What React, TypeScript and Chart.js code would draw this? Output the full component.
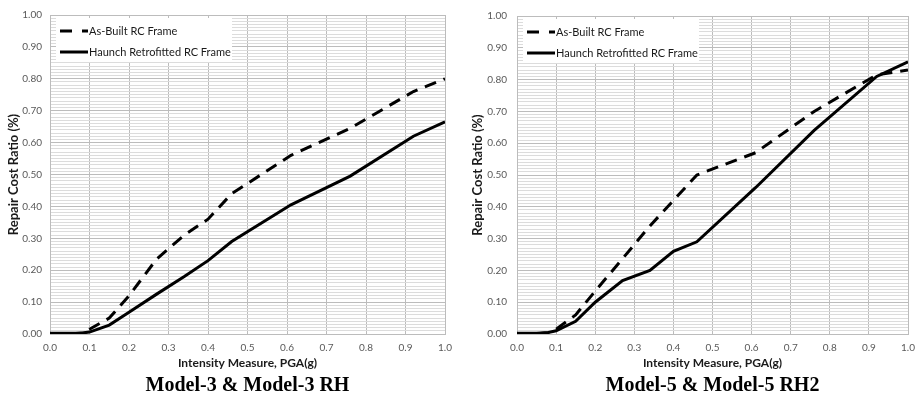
import React, { useEffect, useRef } from 'react';
import { Chart, registerables } from 'chart.js';

Chart.register(...registerables);

// ---- data ----
const PGA = [0, 0.05, 0.08, 0.1, 0.15, 0.2, 0.27, 0.34, 0.4, 0.46, 0.61, 0.76, 0.92, 1.0];
const M3_AS_BUILT = [0, 0, 0.003, 0.015, 0.05, 0.12, 0.235, 0.31, 0.36, 0.44, 0.56, 0.645, 0.76, 0.8];
const M3_HAUNCH = [0.002, 0.002, 0.003, 0.006, 0.028, 0.068, 0.125, 0.18, 0.23, 0.29, 0.405, 0.495, 0.62, 0.665];
const M5_AS_BUILT = [0, 0.001, 0.004, 0.015, 0.06, 0.135, 0.237, 0.34, 0.42, 0.5, 0.57, 0.7, 0.815, 0.83];
const M5_HAUNCH = [0.002, 0.002, 0.005, 0.01, 0.04, 0.1, 0.168, 0.2, 0.26, 0.29, 0.46, 0.64, 0.81, 0.856];
const SERIES_LABELS = ['As-Built RC Frame', 'Haunch Retrofitted RC Frame'];
const CHART_TITLES = ['Model-3 & Model-3 RH', 'Model-5 & Model-5 RH2'];
const X_TITLE = 'Intensity Measure, PGA(g)';
const Y_TITLE = 'Repair Cost Ratio (%)';

const toPoints = (xs: number[], ys: number[]) => xs.map((x, i) => ({ x, y: ys[i] }));

const isMajor = (v: number) => Math.round(v * 100) % 10 === 0;

const insideLegend = {
  id: 'insideLegend',
  afterDatasetsDraw(chart: any) {
    const { ctx, chartArea } = chart;
    const x0 = chartArea.left + 6;
    const y0 = chartArea.top + 3;
    ctx.save();
    ctx.fillStyle = '#ffffff';
    ctx.fillRect(x0, y0, 176, 44);
    chart.data.datasets.forEach((ds: any, i: number) => {
      const y = y0 + 13 + i * 21;
      ctx.beginPath();
      ctx.setLineDash(ds.borderDash && ds.borderDash.length ? [12, 10] : []);
      ctx.lineWidth = ds.borderWidth;
      ctx.strokeStyle = ds.borderColor;
      ctx.moveTo(x0 + 4, y);
      ctx.lineTo(x0 + 32, y);
      ctx.stroke();
      ctx.setLineDash([]);
      ctx.fillStyle = '#1a1a1a';
      ctx.font = '11px Lato';
      ctx.textBaseline = 'middle';
      ctx.textAlign = 'left';
      ctx.fillText(ds.label, x0 + 33, y);
    });
    ctx.restore();
  },
};

type PanelProps = {
  title: string;
  asBuilt: number[];
  haunch: number[];
  width: number;
  padLeft: number;
  padRight: number;
  yAxisWidth: number;
  yTickPad: number;
};

function Panel(p: PanelProps) {
  const ref = useRef<HTMLCanvasElement>(null);
  useEffect(() => {
    if (!ref.current) return;
    const chart = new Chart(ref.current, {
      type: 'line',
      data: {
        datasets: [
          {
            label: SERIES_LABELS[0],
            data: toPoints(PGA, p.asBuilt),
            borderColor: '#000000',
            borderWidth: 3,
            borderDash: [12, 8],
            pointRadius: 0,
            fill: false,
            tension: 0,
          },
          {
            label: SERIES_LABELS[1],
            data: toPoints(PGA, p.haunch),
            borderColor: '#000000',
            borderWidth: 3,
            pointRadius: 0,
            fill: false,
            tension: 0,
          },
        ],
      },
      options: {
        responsive: false,
        animation: false,
        layout: { padding: { top: 15, left: p.padLeft, right: p.padRight, bottom: 0 } },
        plugins: {
          legend: { display: false },
          tooltip: { enabled: false },
          title: {
            display: true,
            position: 'bottom',
            fullSize: false,
            text: p.title,
            color: '#000000',
            font: { family: "'Liberation Serif', 'Times New Roman', serif", size: 20, weight: 'bold', lineHeight: 1 },
            padding: { top: 6, bottom: 0 },
          },
        },
        scales: {
          x: {
            type: 'linear',
            min: 0,
            max: 1,
            afterFit: (s: any) => {
              s.height = 36;
              s.paddingLeft = 0;
              s.paddingRight = 0;
            },
            ticks: {
              stepSize: 0.1,
              color: '#595959',
              font: { family: 'Lato', size: 10 },
              padding: 8,
              maxRotation: 0,
              autoSkip: false,
              callback: (v: any) => Number(v).toFixed(1),
            },
            grid: { color: '#bcbcbc', drawTicks: false, lineWidth: 1 },
            border: { display: true, color: '#bcbcbc' },
            title: {
              display: true,
              text: X_TITLE,
              color: '#1a1a1a',
              font: { family: 'Lato', size: 12, weight: 'bold' },
              padding: { top: 0, bottom: 0 },
            },
          },
          y: {
            type: 'linear',
            min: 0,
            max: 1,
            afterFit: (s: any) => { s.width = p.yAxisWidth; },
            ticks: {
              stepSize: 0.01,
              autoSkip: false,
              color: '#595959',
              font: { family: 'Lato', size: 10 },
              padding: p.yTickPad,
              callback: (v: any) => (isMajor(Number(v)) ? Number(v).toFixed(2) : ''),
            },
            grid: {
              drawTicks: false,
              lineWidth: 1,
              color: (c: any) => (c.tick && isMajor(c.tick.value) ? '#bcbcbc' : '#dcdcdc'),
            },
            border: { display: true, color: '#bcbcbc' },
            title: {
              display: true,
              text: Y_TITLE,
              color: '#1a1a1a',
              font: { family: 'Lato', size: 13, weight: 'bold' },
              padding: { top: 6, bottom: 0 },
            },
          },
        },
      } as any,
      plugins: [insideLegend],
    });
    return () => chart.destroy();
  }, []);
  return <canvas ref={ref} width={p.width} height={396} style={{ display: 'block' }} />;
}

export default function App() {
  return (
    <div style={{ position: 'absolute', left: 0, top: 0, width: 917, height: 396, background: '#fff', display: 'flex' }}>
      <Panel title={CHART_TITLES[0]} asBuilt={M3_AS_BUILT} haunch={M3_HAUNCH} width={458} padLeft={0} padRight={13} yAxisWidth={50} yTickPad={8} />
      <Panel title={CHART_TITLES[1]} asBuilt={M5_AS_BUILT} haunch={M5_HAUNCH} width={459} padLeft={6} padRight={9} yAxisWidth={53} yTickPad={10} />
    </div>
  );
}
